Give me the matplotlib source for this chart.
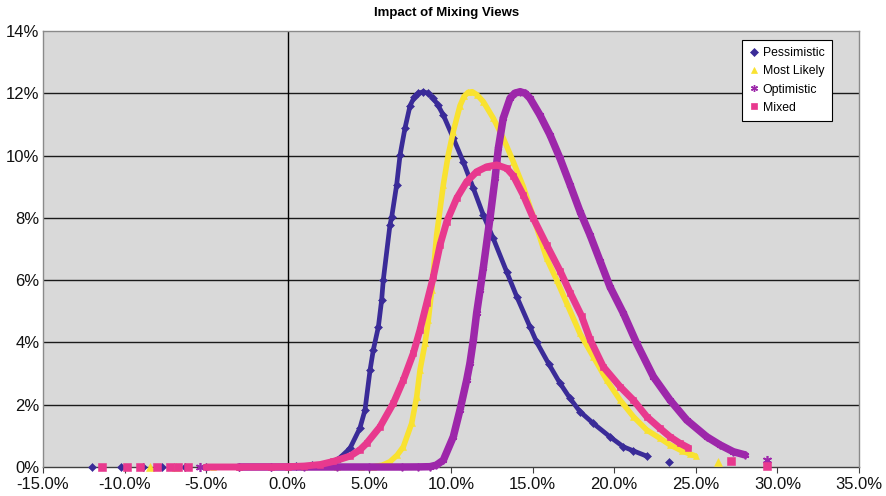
import matplotlib
matplotlib.use('Agg')
import matplotlib.pyplot as plt
from matplotlib.lines import Line2D

plt.rcParams['font.family'] = ['Liberation Sans', 'DejaVu Sans']

# ---------------- data (percent units) ----------------
title = 'Impact of Mixing Views'
series_names = ['Pessimistic', 'Most Likely', 'Optimistic', 'Mixed']

x_ticks = [-15, -10, -5, 0, 5, 10, 15, 20, 25, 30, 35]
x_tick_labels = ['-15.0%', '-10.0%', '-5.0%', '0.0%', '5.0%', '10.0%', '15.0%',
                 '20.0%', '25.0%', '30.0%', '35.0%']
y_ticks = [0, 2, 4, 6, 8, 10, 12, 14]
y_tick_labels = ['0%', '2%', '4%', '6%', '8%', '10%', '12%', '14%']

# Pessimistic
pess_x = [-5.0, -3.0, -1.0, 0.5, 1.5, 2.0, 2.6, 3.2, 3.81, 4.42, 4.73, 5.04, 5.24,
          5.55, 5.75, 5.85, 6.26, 6.37, 6.67, 6.88, 7.18, 7.49, 7.75, 8.0, 8.3,
          8.6, 8.92, 9.2, 9.53, 10.14, 10.75, 11.37, 11.98, 12.59, 13.41, 14.03,
          14.84, 15.25, 16.0, 16.68, 17.3, 17.9, 18.72, 19.74, 20.56, 21.17, 21.99]
pess_y = [0.0, 0.0, 0.005, 0.02, 0.05, 0.08, 0.12, 0.3, 0.6, 1.25, 1.83, 3.11, 3.76,
          4.5, 5.36, 6.0, 7.77, 8.04, 9.06, 10.02, 10.88, 11.6, 11.88, 12.0, 12.05,
          12.0, 11.84, 11.62, 11.3, 10.56, 9.8, 8.95, 8.09, 7.34, 6.27, 5.47,
          4.5, 4.01, 3.3, 2.69, 2.2, 1.78, 1.4, 0.97, 0.65, 0.52, 0.35]
pess_tail_x = [-12.0, -10.2, -8.85, -7.73, -6.3, 23.36]
pess_tail_y = [0.0, 0.0, 0.0, 0.0, 0.0, 0.17]

# Most Likely
ml_x = [-4.6, -3.0, -1.0, 1.0, 3.0, 4.5, 5.24, 5.8, 6.26, 6.7, 7.08, 7.59, 7.9,
        8.1, 8.41, 8.61, 8.82, 9.12, 9.53, 9.83, 10.14, 10.55, 10.8, 11.05, 11.3,
        11.6, 11.98, 12.59, 13.2, 13.82, 14.43, 15.0, 15.86, 16.48, 17.09, 17.9,
        18.72, 19.54, 20.36, 21.17, 21.99, 22.81, 23.42, 24.14, 24.64, 24.99]
ml_y = [0.0, 0.0, 0.0, 0.0, 0.0, 0.002, 0.01, 0.06, 0.17, 0.38, 0.65, 1.4, 2.26,
        3.11, 3.97, 4.72, 5.68, 7.45, 9.06, 10.02, 10.77, 11.6, 11.9, 12.03, 12.05,
        11.95, 11.73, 11.2, 10.56, 9.8, 9.0, 8.1, 6.7, 6.0, 5.26, 4.29,
        3.54, 2.79, 2.15, 1.62, 1.19, 0.92, 0.71, 0.52, 0.42, 0.35]
ml_tail_x = [-8.44, -6.85, 26.38]
ml_tail_y = [0.0, 0.0, 0.17]

# Optimistic
opt_x = [-3.0, -1.0, 1.0, 3.0, 5.0, 7.0, 8.0, 8.71, 9.1, 9.53, 10.14, 10.55, 10.96,
         11.16, 11.37, 11.57, 11.78, 11.98, 12.39, 12.7, 12.9, 13.2, 13.62, 13.9,
         14.23, 14.55, 14.84, 15.45, 16.07, 16.68, 17.3, 17.91, 18.52, 19.13,
         19.74, 20.56, 21.38, 22.4, 23.42, 24.44, 25.67, 26.48, 27.3, 28.01]
opt_y = [0.0, 0.0, 0.0, 0.0, 0.0, 0.0, 0.003, 0.01, 0.06, 0.22, 0.97, 1.83, 2.79,
         3.33, 4.08, 4.94, 5.68, 6.4, 7.99, 9.27, 10.23, 11.2, 11.84, 12.0,
         12.05, 12.0, 11.84, 11.3, 10.66, 9.91, 9.06, 8.2, 7.45, 6.62,
         5.79, 4.94, 3.97, 2.9, 2.15, 1.51, 0.97, 0.71, 0.49, 0.39]
opt_tail_x = [-5.4, 29.34]
opt_tail_y = [0.0, 0.22]

# Mixed
mix_x = [-5.0, -3.0, -1.0, 0.0, 1.0, 2.0, 2.8, 3.81, 4.42, 4.83, 5.65, 6.47, 7.08,
         7.69, 8.1, 8.51, 8.92, 9.33, 9.74, 10.35, 10.96, 11.57, 12.19, 12.8,
         13.41, 13.82, 14.43, 15.04, 15.86, 16.68, 17.3, 18.0, 18.52, 19.33,
         20.36, 21.17, 21.99, 22.81, 23.42, 24.03, 24.54]
mix_y = [0.0, 0.0, 0.005, 0.01, 0.03, 0.08, 0.18, 0.35, 0.55, 0.76, 1.29, 2.05, 2.79,
         3.65, 4.4, 5.26, 6.11, 7.13, 7.88, 8.63, 9.16, 9.48, 9.64, 9.7,
         9.59, 9.35, 8.73, 7.99, 7.13, 6.3, 5.6, 4.85, 4.1, 3.22,
         2.58, 2.15, 1.62, 1.24, 0.97, 0.76, 0.62]
mix_tail_x = [-11.4, -9.87, -9.06, -8.03, -7.22, -6.71, -6.1, 27.14, 29.34]
mix_tail_y = [0.0, 0.0, 0.0, 0.0, 0.0, 0.0, 0.0, 0.2, 0.03]

# ---------------- styles ----------------
colors = ['#3a2b98', '#f9e230', '#9d27aa', '#e8398e']
markers = ['D', '^', (6, 2, 0), 's']
msizes = [3.6, 4.2, 5.5, 4.2]
tail_msizes = [4.2, 5.5, 6.5, 5.2]
lwidths = [3.4, 4.0, 5.4, 5.0]

fig = plt.figure(figsize=(8.86, 4.96), dpi=100)
ax = fig.add_axes([43 / 886, 29 / 496, (859 - 43) / 886, (467 - 31) / 496])
ax.set_facecolor('#d9d9d9')

ax.set_xlim(-15, 35)
ax.set_ylim(0, 14)

for yv in y_ticks[1:-1]:
    ax.axhline(yv, color='#1a1a1a', lw=1.0, zorder=1)
ax.axvline(0, color='#000000', lw=1.0, zorder=1)

data = [(pess_x, pess_y, pess_tail_x, pess_tail_y),
        (ml_x, ml_y, ml_tail_x, ml_tail_y),
        (opt_x, opt_y, opt_tail_x, opt_tail_y),
        (mix_x, mix_y, mix_tail_x, mix_tail_y)]

for i, (xs, ys, tx, ty) in enumerate(data):
    c = colors[i]
    z = 3 + i
    ax.plot(xs, ys, color=c, lw=lwidths[i], solid_capstyle='round',
            solid_joinstyle='round', clip_on=False, zorder=z)
    ax.plot(xs, ys, ls='none', marker=markers[i], ms=msizes[i], color=c,
            mec=c, mew=1.2 if i == 2 else 0.4, clip_on=False, zorder=z)
    ax.plot(tx, ty, ls='none', marker=markers[i], ms=tail_msizes[i], color=c,
            mec=c, mew=1.2 if i == 2 else 0.4, clip_on=False, zorder=z)

ax.set_xticks(x_ticks)
ax.set_xticklabels(x_tick_labels)
ax.set_yticks(y_ticks)
ax.set_yticklabels(y_tick_labels)
ax.tick_params(axis='x', direction='out', length=4, width=0.8, color='#404040',
               labelsize=12, pad=3.5, labelcolor='#111111')
ax.tick_params(axis='y', length=0, labelsize=12, pad=2.5, labelcolor='#111111')

for side in ['left', 'right', 'top']:
    ax.spines[side].set_color('#8a8a8a')
    ax.spines[side].set_linewidth(1.0)
ax.spines['bottom'].set_color('#404040')
ax.spines['bottom'].set_linewidth(1.0)
ax.spines['bottom'].set_zorder(2)

fig.text(447 / 886, 1 - 13 / 496, title, ha='center', va='center',
         fontsize=9.5, fontweight='bold',
         family=['Liberation Sans Narrow', 'Liberation Sans', 'DejaVu Sans'])

handles = [Line2D([], [], ls='none', marker=markers[i], ms=[3.6, 4.5, 5.0, 4.5][i],
                  color=colors[i], mec=colors[i], mew=1.0 if i == 2 else 0.5)
           for i in range(4)]
leg = fig.legend(handles, series_names, loc='upper left',
                 bbox_to_anchor=(742 / 886, 1 - 40 / 496), fontsize=8.8,
                 frameon=True, fancybox=False, framealpha=1, edgecolor='#000000',
                 handlelength=0.8, handletextpad=0.3, borderpad=0.6,
                 labelspacing=0.5, borderaxespad=0)
leg.get_frame().set_linewidth(0.8)

fig.savefig('out.png', dpi=100)
